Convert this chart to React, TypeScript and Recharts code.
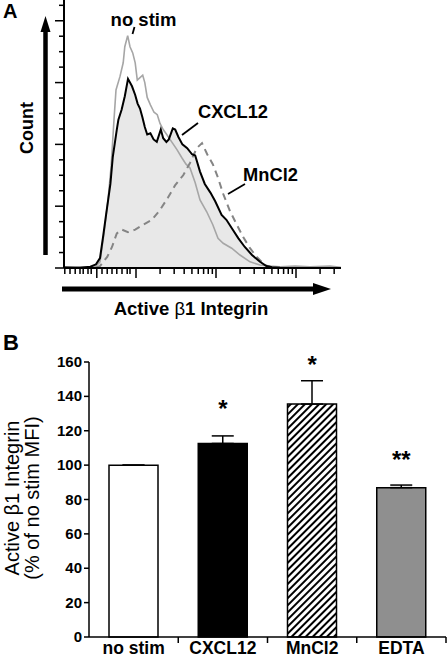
import {
  Area,
  Bar,
  Cell,
  ComposedChart,
  ErrorBar,
  Line,
  ReferenceDot,
  XAxis,
  YAxis,
} from "recharts";

// Panel A: flow histograms. x = display position in log decades, y = cell count
const noStimTrace: [number, number][] = [
  [0.1, 1], [0.24, 0.5], [0.4, 1], [0.49, 1], [0.55, 5], [0.6, 28], [0.65, 55],
  [0.69, 83], [0.725, 120], [0.75, 144], [0.8, 155], [0.84, 166], [0.86, 179],
  [0.896, 188], [0.925, 179], [0.959, 174], [0.99, 166], [1.016, 152], [1.05, 154],
  [1.084, 156], [1.11, 150], [1.14, 138], [1.18, 132], [1.225, 126], [1.266, 124],
  [1.3, 117], [1.34, 112], [1.384, 108], [1.446, 102], [1.51, 96], [1.575, 89],
  [1.625, 84], [1.675, 81], [1.74, 69], [1.8, 55], [1.884, 45.5], [1.96, 35],
  [2.025, 24], [2.09, 20], [2.196, 16], [2.3, 10.5], [2.425, 5], [2.55, 2.4],
  [2.675, 1.6], [2.8, 1], [2.99, 1.5], [3.175, 1], [3.425, 1.5], [3.56, 0.5],
];

const cxcl12Trace: [number, number][] = [
  [0.1, 0.5], [0.3, 0.3], [0.43, 1], [0.5, 3], [0.55, 8], [0.59, 26], [0.63, 45],
  [0.68, 68], [0.71, 90], [0.76, 112], [0.78, 120], [0.82, 128], [0.86, 139],
  [0.9, 153], [0.95, 147], [0.99, 140], [1.02, 133], [1.05, 129], [1.08, 122],
  [1.11, 114], [1.14, 108], [1.18, 109], [1.22, 104], [1.26, 102], [1.31, 112],
  [1.34, 105], [1.38, 102], [1.41, 104], [1.46, 113], [1.49, 112], [1.53, 106],
  [1.58, 100], [1.64, 97], [1.7, 92], [1.74, 91], [1.8, 78], [1.86, 68], [1.93, 61],
  [1.99, 54], [2.07, 43], [2.13, 39], [2.2, 32], [2.28, 24], [2.36, 17], [2.45, 10.5],
  [2.55, 5], [2.63, 1.6], [2.7, 0.6], [2.8, 0.3],
];

const mncl2Trace: [number, number][] = [
  [0.5, 0.5], [0.55, 1.5], [0.64, 9], [0.7, 17], [0.76, 28], [0.825, 31], [0.9, 29],
  [0.99, 31], [1.09, 35], [1.2, 39], [1.3, 47], [1.4, 57], [1.49, 67], [1.59, 75],
  [1.675, 85], [1.76, 97], [1.825, 101], [1.89, 92], [1.96, 84], [2.025, 73],
  [2.09, 60], [2.175, 46], [2.26, 35], [2.34, 25], [2.425, 16], [2.51, 9],
  [2.61, 2.4], [2.7, 0.5],
];

const countTicks = Array.from({ length: 18 }, (_, i) => i * 12.5);
const countMajor = [0, 50, 100, 150, 200];
// compressed low end of the flow axis, then regular log decades
const lowEndTicks = [0.11, 0.175, 0.24, 0.3, 0.34, 0.4, 0.44, 0.51, 0.575, 0.64, 0.7, 0.76, 0.825, 0.89, 0.925];
const decadeStarts = [1, 2, 3];
const intensityMajor = [0.51, 1, 2, 3];

// Panel B: active beta1 integrin, % of no stim MFI
const conditions = ["no stim", "CXCL12", "MnCl2", "EDTA"];
const mfiPercent = [100, 112.6, 135.5, 86.9];
const mfiSem = [0, 4.4, 13.6, 1.5];
const significance = ["", "*", "*", "**"];
const starLevel = [0, 136.1, 161.3, 106.1];
const percentTicks = [0, 20, 40, 60, 80, 100, 120, 140, 160];

const barFills = ["#ffffff", "#000000", "url(#hatch)", "#8f8f8f"];

const FONT = "'Liberation Sans', Arial, Helvetica, sans-serif";

const toPoints = (trace: [number, number][]) => trace.map(([x, count]) => ({ x, count }));

const intensityTicks = [
  ...lowEndTicks,
  ...decadeStarts.flatMap((d) =>
    [1, 2, 3, 4, 5, 6, 7, 8, 9].map((k) => +(d + Math.log10(k)).toFixed(4))
  ),
].filter((v) => v <= 3.5625);

function CountTick({ x, y, payload }: any) {
  const len = countMajor.includes(payload.value) ? 9 : 5;
  return <line x1={x - len} x2={x} y1={y} y2={y} stroke="#000" strokeWidth={1.5} />;
}

function IntensityTick({ x, y, payload }: any) {
  const len = intensityMajor.includes(payload.value) ? 10 : 6;
  return <line x1={x} x2={x} y1={y} y2={y + len} stroke="#000" strokeWidth={1.5} />;
}

function PercentTick({ x, y, payload }: any) {
  return (
    <g>
      <line x1={x - 5} x2={x} y1={y} y2={y} stroke="#000" strokeWidth={1.5} />
      <text x={x - 7} y={y + 5} textAnchor="end" fontSize={15} fontWeight={700} fill="#000" fontFamily={FONT}>
        {payload.value}
      </text>
    </g>
  );
}

function ConditionTick({ x, y, payload }: any) {
  const half = payload.offset ?? 44.6;
  return (
    <g>
      <line x1={x + half} x2={x + half} y1={y} y2={y + 6} stroke="#000" strokeWidth={1.5} />
      <text x={x} y={y + 17} textAnchor="middle" fontSize={17.5} fontWeight={700} fill="#000" fontFamily={FONT}>
        {payload.value}
      </text>
    </g>
  );
}

export default function App() {
  const barData = conditions.map((name, i) => ({
    name,
    value: mfiPercent[i],
    err: [0, mfiSem[i]],
  }));

  return (
    <div style={{ position: "absolute", left: 0, top: 0, width: 448, height: 659, background: "#fff", fontFamily: FONT }}>
      <svg width={0} height={0} style={{ position: "absolute" }}>
        <defs>
          <pattern id="hatch" width={5} height={10} patternUnits="userSpaceOnUse" patternTransform="rotate(45)">
            <rect width={5} height={10} fill="#fff" />
            <rect width={2} height={10} fill="#000" />
          </pattern>
        </defs>
      </svg>

      {/* A: histogram overlay */}
      <div style={{ position: "absolute", left: 0, top: 0 }}>
        <ComposedChart width={448} height={300} margin={{ top: 0, right: 107, bottom: 0, left: 4 }}>
          <XAxis
            type="number"
            dataKey="x"
            domain={[0.1, 3.5625]}
            ticks={intensityTicks}
            interval={0}
            height={32}
            axisLine={{ stroke: "#000", strokeWidth: 2 }}
            tickLine={false}
            tickSize={0}
            tickMargin={0}
            tick={<IntensityTick />}
          />
          <YAxis
            type="number"
            domain={[0, 216.8]}
            ticks={countTicks}
            interval={0}
            width={60}
            axisLine={{ stroke: "#000", strokeWidth: 2 }}
            tickLine={false}
            tickSize={0}
            tickMargin={0}
            tick={<CountTick />}
          />
          <Area
            data={toPoints(cxcl12Trace)}
            dataKey="count"
            type="linear"
            fill="#e8e8e8"
            fillOpacity={1}
            stroke="none"
            isAnimationActive={false}
          />
          <Line
            data={toPoints(noStimTrace)}
            dataKey="count"
            type="linear"
            stroke="#a6a6a6"
            strokeWidth={1.6}
            dot={false}
            isAnimationActive={false}
          />
          <Line
            data={toPoints(mncl2Trace)}
            dataKey="count"
            type="linear"
            stroke="#858585"
            strokeWidth={2}
            strokeDasharray="7 5"
            dot={false}
            isAnimationActive={false}
          />
          <Line
            data={toPoints(cxcl12Trace)}
            dataKey="count"
            type="linear"
            stroke="#000"
            strokeWidth={2}
            dot={false}
            isAnimationActive={false}
          />
        </ComposedChart>
      </div>

      {/* B: bar chart */}
      <div style={{ position: "absolute", left: 0, top: 340 }}>
        <ComposedChart width={448} height={319} data={barData} margin={{ top: 22, right: 2, bottom: 0, left: 0 }}>
          <XAxis
            dataKey="name"
            height={22}
            axisLine={{ stroke: "#000", strokeWidth: 1.5 }}
            tickLine={false}
            tickSize={0}
            tickMargin={0}
            interval={0}
            tick={<ConditionTick />}
          />
          <YAxis
            domain={[0, 160]}
            ticks={percentTicks}
            interval={0}
            width={89}
            axisLine={{ stroke: "#000", strokeWidth: 1.5 }}
            tickLine={false}
            tickSize={0}
            tickMargin={0}
            tick={<PercentTick />}
          />
          <Bar dataKey="value" barSize={49} stroke="#000" strokeWidth={1.5} isAnimationActive={false}>
            {barData.map((d, i) => (
              <Cell key={d.name} fill={barFills[i]} />
            ))}
            <ErrorBar dataKey="err" width={11} stroke="#000" strokeWidth={1.5} direction="y" />
          </Bar>
          {conditions.map((name, i) =>
            significance[i] ? (
              <ReferenceDot
                key={name}
                x={name}
                y={starLevel[i]}
                ifOverflow="visible"
                shape={(p: any) => (
                  <text x={p.cx} y={p.cy + 13.5} textAnchor="middle" fontSize={24} fontWeight={700} fill="#000" fontFamily={FONT}>
                    {significance[i]}
                  </text>
                )}
              />
            ) : null
          )}
        </ComposedChart>
      </div>

      {/* annotations */}
      <svg width={448} height={659} style={{ position: "absolute", left: 0, top: 0, pointerEvents: "none" }} fontFamily={FONT}>
        <text x={3} y={18} fontSize={20} fontWeight={700}>A</text>
        <text x={3} y={350} fontSize={22} fontWeight={700}>B</text>

        {/* Count arrow */}
        <line x1={45.5} x2={45.5} y1={255} y2={30} stroke="#000" strokeWidth={4.5} />
        <polygon points="45.5,16 40.5,32 50.5,32" fill="#000" />
        <text x={33} y={128} fontSize={18} fontWeight={700} textAnchor="middle" transform="rotate(-90 33 128)">
          Count
        </text>

        {/* intensity arrow */}
        <line x1={62} x2={314} y1={289} y2={289} stroke="#000" strokeWidth={5} />
        <polygon points="331,289 313,283 313,295" fill="#000" />
        <text x={191} y={315} fontSize={18.5} fontWeight={700} textAnchor="middle">
          Active <tspan fontWeight={400}>β</tspan>1 Integrin
        </text>

        {/* series labels */}
        <text x={143.5} y={26} fontSize={18.5} fontWeight={700} textAnchor="middle">no stim</text>
        <line x1={134.5} y1={27} x2={132.5} y2={34} stroke="#000" strokeWidth={1.8} />
        <text x={233} y={118} fontSize={18.3} fontWeight={700} textAnchor="middle">CXCL12</text>
        <line x1={198} y1={123} x2={182} y2={135} stroke="#000" strokeWidth={1.8} />
        <text x={270.5} y={181} fontSize={18.3} fontWeight={700} textAnchor="middle">MnCl2</text>
        <line x1={245} y1={184} x2={228} y2={194} stroke="#000" strokeWidth={1.8} />

        {/* B y label */}
        <text x={19} y={498} fontSize={20} textAnchor="middle" transform="rotate(-90 19 498)">
          Active β1 Integrin
        </text>
        <text x={38.5} y={498} fontSize={20} textAnchor="middle" transform="rotate(-90 38.5 498)">
          (% of no stim MFI)
        </text>
      </svg>
    </div>
  );
}
